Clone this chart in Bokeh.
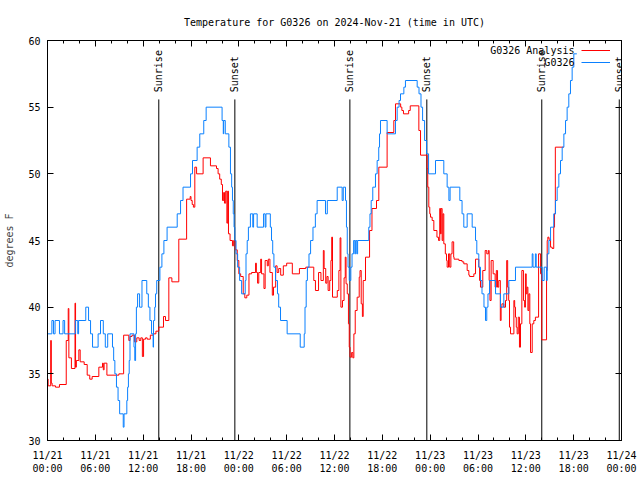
import math
from bokeh.plotting import figure
from bokeh.models import Range1d, FixedTicker, LinearAxis, Label, Legend, LegendItem
from bokeh.core.properties import value
from bokeh.embed import file_html
from bokeh.resources import INLINE

FONT = "DejaVu Sans Mono"

# ---------------- data (hours since 2024-11-21 00:00 UTC) ----------------
blue_hours = [0.0, 0.55, 0.75, 0.95, 1.5, 1.95, 2.15, 3.5, 3.8, 3.9, 4.8, 5.15, 5.4, 5.65, 6.35, 6.65,
              7.0, 7.25, 7.55, 8.15, 8.3, 8.45, 8.65, 8.85, 9.05, 9.5, 9.6, 9.95, 10.05, 10.15, 10.25,
              10.35, 10.85, 10.95, 11.05, 11.15, 11.3, 11.55, 11.85, 12.45, 12.65, 12.85, 13.05, 13.25,
              13.3, 13.45, 13.55, 13.7, 14.1, 14.35, 14.6, 15.0, 16.27, 16.69, 17.0, 17.94, 18.19, 18.77,
              19.1, 19.6, 19.9, 21.9, 22.05, 22.1, 22.3, 22.75, 22.95, 23.1, 23.2, 23.3, 23.4, 23.5,
              23.65, 23.85, 24.1, 24.35, 24.8, 24.9, 25.05, 25.2, 25.45, 25.75, 25.85, 26.3, 27.1, 27.3,
              27.4, 27.95, 28.1, 28.25, 28.4, 28.6, 28.85, 29.0, 29.23, 30.06, 31.7, 32.2, 32.3, 32.45,
              32.6, 32.8, 33.0, 33.3, 33.6, 33.82, 34.87, 35.1, 36.34, 36.96, 37.1, 37.38, 37.5, 37.6,
              37.7, 37.85, 38.05, 38.2, 38.4, 38.55, 38.65, 38.8, 38.9, 40.3, 40.45, 40.6, 40.8, 41.14,
              41.35, 41.55, 41.65, 41.77, 42.6, 43.65, 43.86, 44.1, 44.28, 44.7, 44.9, 46.37, 46.6,
              46.85, 47.05, 47.3, 47.55, 47.8, 48.67, 49.71, 50.13, 50.35, 50.5, 51.72, 52.0, 52.22,
              52.64, 53.27, 53.69, 53.85, 54.1, 54.31, 54.5, 54.75, 54.94, 55.1, 55.25, 55.45, 56.2,
              56.82, 57.24, 57.87, 58.7, 60.8, 60.9, 61.2, 61.3, 62.05, 62.3, 62.6, 62.68, 62.89, 63.1,
              63.5, 63.72, 63.93, 64.14, 64.35, 64.56, 64.77, 64.98, 65.18, 65.39, 65.6, 65.81, 66.02,
              66.4]
blue_temps = [38, 39, 38, 39, 38, 39, 38, 39, 38, 39, 40, 39, 38, 37, 38, 39,
              38, 37, 38, 37, 36, 35, 34, 33, 32, 31, 32, 33, 34, 35, 36,
              38, 37, 36, 38, 40, 41, 40, 42, 41, 40, 39, 38, 37,
              39, 40, 41, 42, 43, 44, 45, 46, 47, 48, 49, 50, 51, 52,
              53, 54, 55, 54, 53, 54, 53, 52, 50, 49, 48, 47, 46, 45,
              44, 43, 42, 41, 42, 44, 45, 46, 47, 46, 47, 46, 47, 46,
              47, 46, 45, 44, 43, 42, 41, 40, 39, 38, 37, 38, 40, 42,
              43, 44, 45, 46, 47, 48, 47, 48, 49, 48, 49, 48, 46, 44,
              43, 42, 43, 44, 45, 44, 45, 44, 45, 46, 47, 48, 49, 50,
              51, 52, 53, 54, 53, 54, 55, 55.5, 56, 56.5, 57, 56.5, 56,
              55, 54, 52.5, 51.5, 50, 51, 50, 49, 48, 49, 48, 47, 46,
              47, 46, 45, 44, 43, 42, 41, 40, 39, 40, 41, 42, 41,
              40, 41, 42, 43, 44, 43, 44, 43, 42, 43, 42, 44, 45, 46,
              47, 48, 49, 50, 51, 52, 53, 54, 55, 56, 57, 58, 59,
              59]

red_hours = [0.0, 0.08, 0.4, 0.48, 0.58, 1.0, 1.5, 2.35, 2.6, 2.68, 3.0, 3.45, 3.52, 3.62, 3.93, 4.1,
             4.6, 4.98, 5.3, 5.6, 6.44, 6.9, 7.0, 7.1, 7.45, 8.95, 9.55, 10.2, 10.35, 10.6, 10.9, 11.2,
             11.5, 11.7, 11.9, 12.05, 12.3, 12.5, 12.9, 13.3, 13.6, 13.96, 14.55, 14.8, 15.22, 15.6,
             16.47, 17.45, 17.9, 18.0, 18.15, 18.3, 18.48, 18.7, 19.52, 20.44, 21.2, 21.4, 21.6, 21.8,
             21.95, 22.1, 22.2, 22.35, 22.5, 22.6, 22.7, 22.9, 23.2, 23.35, 23.55, 23.8, 24.0, 24.23,
             24.55, 24.75, 25.0, 25.27, 25.6, 26.1, 26.2, 26.35, 26.5, 26.74, 26.85, 27.15, 27.3, 27.57,
             27.7, 27.9, 28.2, 28.35, 28.62, 28.8, 29.0, 29.25, 29.58, 30.0, 30.71, 31.6, 32.4, 33.4,
             33.61, 34.0, 34.3, 34.6, 34.7, 34.9, 35.05, 35.2, 35.4, 35.55, 35.65, 35.75, 36.35, 36.55,
             36.7, 36.8, 37.0, 37.2, 37.35, 37.45, 37.6, 37.75, 37.85, 37.95, 38.15, 38.3, 38.43, 38.6,
             38.84, 39.1, 39.2, 39.35, 39.5, 39.6, 39.89, 40.4, 40.7, 41.27, 41.56, 42.6, 43.44, 43.65,
             44.3, 44.45, 44.65, 45.3, 45.5, 46.58, 46.79, 47.62, 47.7, 47.83, 47.95, 48.04, 48.25,
             48.46, 48.85, 49.05, 49.2, 49.3, 49.38, 49.5, 49.6, 49.71, 49.9, 50.05, 50.13, 50.3, 50.45,
             50.6, 50.75, 50.95, 51.0, 51.6, 52.0, 52.22, 52.64, 52.85, 52.95, 53.48, 53.69, 54.1, 54.2,
             54.31, 54.6, 54.9, 55.1, 55.3, 55.4, 55.5, 55.65, 55.9, 56.15, 56.3, 56.45, 56.6, 56.8,
             56.9, 57.0, 57.24, 57.45, 57.6, 57.72, 57.85, 57.95, 58.08, 58.5, 58.6, 58.7, 58.8, 58.91,
             59.05, 59.2, 59.33, 59.5, 59.7, 59.85, 59.95, 60.05, 60.15, 60.26, 60.38, 60.5, 60.59,
             60.8, 61.0, 61.2, 61.6, 61.85, 62.0, 62.6, 62.68, 62.76, 62.9, 63.1, 63.3, 63.5, 63.6,
             63.7, 64.75]
red_temps = [34.6, 34.1, 37.5, 34.3, 34.1, 34.0, 34.2, 37.5, 39.9, 36.2, 35.4, 40.3, 35.5, 36.0, 36.8, 35.9,
             35.7, 34.9, 34.6, 34.8, 35.5, 35.8, 35.3, 35.8, 34.9, 35.0, 37.9, 37.5, 37.8, 37.9, 37.4, 37.7,
             37.5, 37.7, 36.3, 37.6, 37.7, 37.6, 37.9, 38.0, 38.2, 38.5, 39.3, 39.0, 42.2, 41.9,
             45.1, 48.1, 48.3, 48.0, 47.7, 47.5, 50.5, 50.0, 51.2, 50.6, 50.4, 50.0, 49.6, 49.2,
             48.0, 48.6, 47.8, 48.7, 46.3, 48.7, 45.5, 45.0, 44.6, 45.0, 44.3, 43.5, 42.5, 42.3,
             41.0, 40.7, 40.9, 42.5, 42.6, 43.3, 42.6, 41.8, 42.6, 43.6, 42.5, 41.4, 43.5, 43.1,
             43.6, 42.6, 40.9, 41.5, 43.1, 42.6, 42.9, 42.4, 43.1, 43.3, 42.5, 42.9, 43.0, 42.0,
             41.25, 42.6, 42.0, 44.25, 42.9, 41.8, 42.3, 41.25, 42.0, 43.5, 45.25, 40.75, 41.25, 42.75,
             45.2, 40.0, 40.5, 42.2, 43.75, 41.75, 41.0, 38.75, 37.0, 36.25, 36.6, 36.2, 38.0, 39.75,
             40.75, 42.25, 42.75, 40.25, 39.3, 42.0, 43.75, 45.75, 47.4, 48.0, 50.5, 53.1, 54.0, 55.25,
             55.0, 54.75, 54.5, 54.75, 55.1, 53.25, 51.4, 50.4, 49.0, 47.5, 47.0, 46.75, 46.5,
             45.75, 45.25, 45.0, 47.4, 45.5, 47.4, 45.0, 47.0, 44.75, 44.0, 43.5, 43.0, 44.0, 43.0,
             44.0, 44.9, 43.75, 43.6, 43.5, 43.4, 43.25, 42.75, 42.4, 42.3, 42.5, 43.6, 43.0, 42.0,
             41.5, 42.75, 44.25, 44.0, 44.25, 42.0, 40.5, 43.5, 42.5, 41.5, 42.75, 41.5, 42.0, 39.0,
             40.0, 40.25, 40.0, 40.5, 43.5, 41.5, 40.5, 38.5, 38.0, 40.5, 40.0, 39.25, 38.5, 38.0,
             39.25, 37.0, 38.75, 42.75, 40.5, 40.0, 42.5, 41.0, 41.5, 39.75, 41.0, 38.75, 36.6,
             38.75, 39.0, 39.25, 44.0, 42.5, 37.55, 42.75, 45.0, 45.25, 45.1, 44.5, 44.4, 46.0, 47.0,
             52.0, 52.0]

series_names = ["G0326 Analysis", "G0326"]
series_colors = ["#ff0000", "#0a80ff"]

sun_hours = [13.96, 23.5, 37.93, 47.58, 62.0, 71.72]
sun_labels = ["Sunrise", "Sunset", "Sunrise", "Sunset", "Sunrise", "Sunset"]

x_tick_hours = [0, 6, 12, 18, 24, 30, 36, 42, 48, 54, 60, 66, 72]
x_tick_labels = ["11/21\n00:00", "11/21\n06:00", "11/21\n12:00", "11/21\n18:00",
                 "11/22\n00:00", "11/22\n06:00", "11/22\n12:00", "11/22\n18:00",
                 "11/23\n00:00", "11/23\n06:00", "11/23\n12:00", "11/23\n18:00",
                 "11/24\n00:00"]
x_minor_hours = [h for h in range(0, 73, 2) if h % 6 != 0]
y_ticks = [30, 35, 40, 45, 50, 55, 60]

# ---------------- figure ----------------
p = figure(width=640, height=480, output_backend="svg", toolbar_location=None,
           x_range=Range1d(0, 72), y_range=Range1d(30, 60),
           x_axis_type=None, y_axis_type=None,
           min_border_left=47, min_border_right=19, min_border_top=40, min_border_bottom=40)
p.xgrid.visible = False
p.ygrid.visible = False
p.outline_line_color = "black"
p.outline_line_width = 1
p.background_fill_color = "white"
p.border_fill_color = "white"

p.title.text = "Temperature for G0326 on 2024-Nov-21 (time in UTC)"
p.title.align = "center"
p.title.text_font = FONT
p.title.text_font_size = "10px"
p.title.text_font_style = "normal"
p.title.text_color = "black"
p.title.standoff = 26

xticker = FixedTicker(ticks=x_tick_hours, minor_ticks=x_minor_hours)
yticker = FixedTicker(ticks=y_ticks, minor_ticks=[])


def style_axis(ax, show_labels):
    ax.axis_line_color = "black"
    ax.major_tick_in = 6
    ax.major_tick_out = 0
    ax.minor_tick_in = 3
    ax.minor_tick_out = 0
    ax.major_tick_line_color = "black"
    ax.minor_tick_line_color = "black"
    ax.major_label_text_font = FONT
    if show_labels:
        ax.major_label_text_font_size = "10px"
        ax.major_label_text_color = "black"
    else:
        ax.major_label_text_font_size = "1px"
        ax.major_label_text_color = None
        ax.major_label_standoff = 0


xb = LinearAxis(ticker=xticker,
                major_label_overrides={h: t for h, t in zip(x_tick_hours, x_tick_labels)})
style_axis(xb, True)
xb.major_label_standoff = 9
p.add_layout(xb, "below")

xa = LinearAxis(ticker=xticker)
style_axis(xa, False)
p.add_layout(xa, "above")

yl = LinearAxis(ticker=yticker, axis_label="degrees F")
style_axis(yl, True)
yl.major_label_standoff = 7
yl.axis_label_text_font = FONT
yl.axis_label_text_font_size = "10px"
yl.axis_label_text_font_style = "normal"
yl.axis_label_standoff = 10
p.add_layout(yl, "left")

yr = LinearAxis(ticker=yticker)
style_axis(yr, False)
p.add_layout(yr, "right")

# sunrise / sunset markers
p.segment(x0=sun_hours, y0=[30] * len(sun_hours), x1=sun_hours, y1=[55.58] * len(sun_hours),
          line_color="black", line_width=1)
p.text(x=sun_hours, y=[56.12] * len(sun_hours), text=sun_labels, angle=math.pi / 2,
       text_align="left", text_baseline="middle", text_font=value(FONT),
       text_font_size="10px", text_color="black")

r_red = p.step(red_hours, red_temps, mode="after", line_color=series_colors[0], line_width=1)
r_blue = p.step(blue_hours, blue_temps, mode="after", line_color=series_colors[1], line_width=1)

# legend: sample lines from the legend, key texts written to their left (gnuplot style)
lg = Legend(items=[LegendItem(label=value(""), renderers=[r_red]),
                   LegendItem(label=value(""), renderers=[r_blue])],
            location=(534, 372), glyph_width=29, glyph_height=12, label_height=12,
            label_width=0, spacing=0, padding=0, margin=0, label_standoff=0,
            border_line_color=None, background_fill_alpha=0)
p.add_layout(lg, "center")

for name, yy in zip(series_names, [59.25, 58.35]):
    p.add_layout(Label(x=66.1, y=yy, text=name, text_align="right", text_baseline="middle",
                       text_font=FONT, text_font_size="10px", text_color="black"))

open("out.html", "w").write(file_html(p, INLINE))
